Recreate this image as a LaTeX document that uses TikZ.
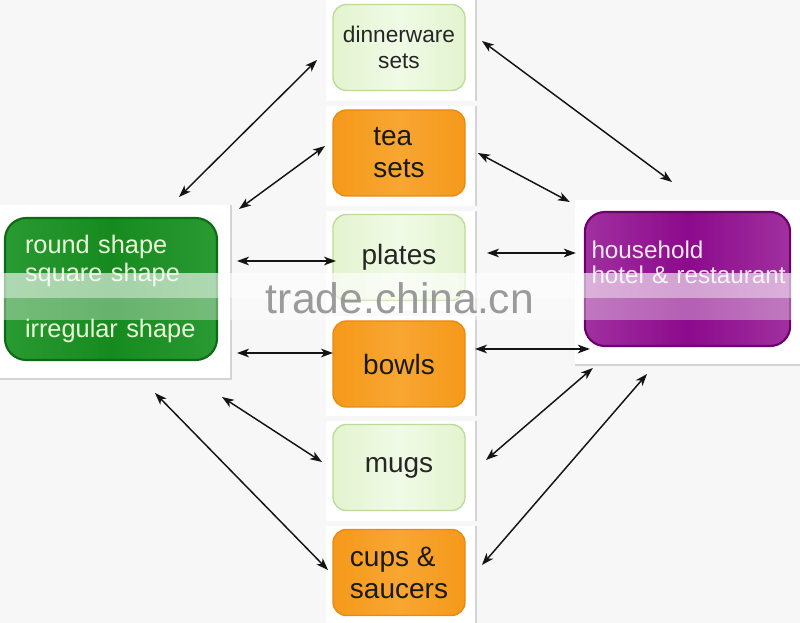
\documentclass[tikz,border=0pt]{standalone}
\usepackage{fontspec}
\setmainfont{Liberation Sans}
\usetikzlibrary{arrows.meta,calc}
\definecolor{bgc}{HTML}{F7F7F7}
\definecolor{shadowc}{HTML}{D4D4D4}
\definecolor{lgfill}{HTML}{E3F4CF}
\definecolor{lgmid}{HTML}{F0FAE6}
\definecolor{lgline}{HTML}{BADC95}
\definecolor{orfill}{HTML}{F5991A}
\definecolor{ormid}{HTML}{F8A632}
\definecolor{orline}{HTML}{E88A10}
\definecolor{gnfill}{HTML}{2A9A33}
\definecolor{gnmid}{HTML}{168A1F}
\definecolor{gnline}{HTML}{0E6A14}
\definecolor{gntext}{HTML}{E8F8D8}
\definecolor{pufill}{HTML}{A0309F}
\definecolor{pumid}{HTML}{8C0A8C}
\definecolor{puline}{HTML}{6C006C}
\definecolor{putext}{HTML}{F6E8F6}
\definecolor{wmgray}{HTML}{8A8A8A}
\tikzset{
  panel/.style={fill=white},
  pshadow/.style={draw=shadowc, line width=1.4pt},
  itembox/.style={rounded corners=10pt, minimum width=99pt, minimum height=64.5pt,
     outer sep=0pt, inner sep=2pt, line width=1pt, align=center, text=black!85,
     font=\fontsize{21}{24}\selectfont},
  lightbox/.style={itembox, draw=lgline, left color=lgfill, right color=lgfill, middle color=lgmid},
  orangebox/.style={itembox, draw=orline, left color=orfill, right color=orfill, middle color=ormid, text=black!90},
  greenbox/.style={rounded corners=16pt, minimum width=159pt, minimum height=106.5pt,
     text width=129pt, outer sep=0pt, inner sep=0pt, line width=1.6pt, align=left,
     draw=gnline, left color=gnfill, right color=gnfill, middle color=gnmid, text=gntext,
     font=\fontsize{19}{21}\selectfont},
  purplebox/.style={rounded corners=15pt, minimum width=154pt, minimum height=100.5pt,
     text width=144pt, outer sep=0pt, inner sep=0pt, line width=1.6pt, align=left,
     draw=puline, left color=pufill, right color=pufill, middle color=pumid, text=putext,
     font=\fontsize{18.2}{19}\selectfont},
  link/.style={line width=1.1pt, black!92, {Stealth[length=9pt,width=6.5pt,inset=2.5pt]}-{Stealth[length=9pt,width=6.5pt,inset=2.5pt]}}
}
\begin{document}
\begin{tikzpicture}[x=0.75pt,y=-0.75pt]
\useasboundingbox (0,0) rectangle (800,623);
\fill[bgc] (0,0) rectangle (800,623);
% panels
\fill[panel] (0,205) rectangle (231,379);
\draw[pshadow] (231,205) -- (231,379) -- (0,379);
\foreach \t/\b in {0/101,106/206,211/311,316/416,421/521,526/623}{
  \fill[panel] (326,\t) rectangle (476,\b);
  \draw[pshadow] (476,\t) -- (476,\b);
}
\fill[panel] (575,200) rectangle (800,365);
\draw[pshadow] (575,365) -- (800,365);

% center column
\node[lightbox, font=\fontsize{17}{19}\selectfont] (dinner) at (399,47.5) {dinnerware\\sets};
\node[orangebox, align=left] (tea) at (399,153) {tea\\sets};
\node[lightbox] (plates) at (399,257.5) {plates};
\node[orangebox] (bowls) at (399,364) {bowls};
\node[lightbox] (mugs) at (399,467.5) {mugs};
\node[orangebox, align=left] (cups) at (399,572.5) {cups \&\\saucers};

% side boxes
\node[greenbox] (shapes) at (111,289) {round shape\\square shape\\\strut\\irregular shape};
\node[purplebox] (usage) at (687.5,279) {household\\\mbox{hotel \& restaurant}\\\strut};

% left connectors
\draw[link] ($(shapes.north east)+(-38,-21)$) -- ($(dinner.west)+(-16,12.5)$);
\draw[link] ($(shapes.north east)+(22,-9)$) -- ($(tea.west)+(-8,-7)$);
\draw[link] ($(shapes.north east)+(20,43)$) -- ($(plates.west)+(3,3.5)$);
\draw[link] ($(shapes.south east)+(20,-7)$) -- ($(bowls.west)+(0,-11)$);
\draw[link] ($(shapes.south east)+(5,37)$) -- ($(mugs.west)+(-11,-5.5)$);
\draw[link] ($(shapes.south east)+(-62,33)$) -- ($(cups.west)+(-5,-2.5)$);
% right connectors
\draw[link] ($(dinner.east)+(17,-6.5)$) -- ($(usage.north)+(-15.5,-30)$);
\draw[link] ($(tea.east)+(13,0)$) -- ($(usage.north west)+(-15,-10)$);
\draw[link] ($(plates.east)+(22,-4.5)$) -- ($(usage.west)+(-9,-26)$);
\draw[link] ($(bowls.east)+(10,-15)$) -- ($(usage.south west)+(5,3)$);
\draw[link] ($(mugs.east)+(21,-7.5)$) -- ($(usage.south west)+(8,22)$);
\draw[link] ($(cups.east)+(17,-7.5)$) -- ($(usage.south)+(-40.5,28)$);

% watermark band
\fill[white, opacity=0.62] (0,273) rectangle (800,298);
\fill[white, opacity=0.35] (0,298) rectangle (800,320);
\node[text=wmgray, opacity=0.85, font=\fontsize{32}{32}\selectfont, inner sep=0pt] (wm) at (400,298) {trade.china.cn};
\end{tikzpicture}
\end{document}
